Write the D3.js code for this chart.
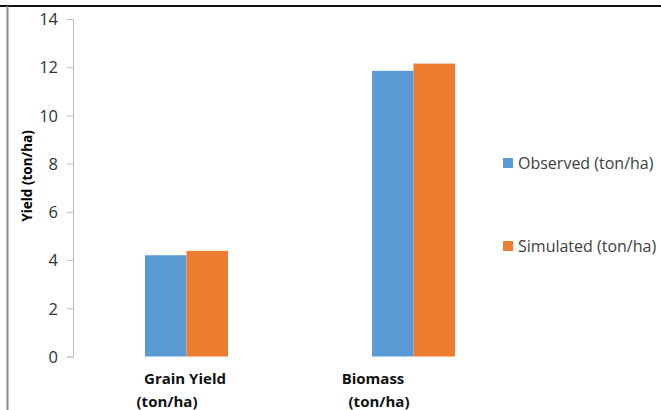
<!DOCTYPE html>
<html>
<head>
<meta charset="utf-8">
<script src="https://cdn.jsdelivr.net/npm/d3@7"></script>
<style>
  body { margin: 0; background: #fff; }
  svg { display: block; font-family: "Open Sans", "Liberation Sans", sans-serif; }
</style>
</head>
<body>
<div id="chart"></div>
<script>
const categories = ['Grain Yield', 'Biomass'];
const seriesNames = ['Observed (ton/ha)', 'Simulated (ton/ha)'];
const observed = [4.2, 11.85];
const simulated = [4.38, 12.15];
const yTicks = [0, 2, 4, 6, 8, 10, 12, 14];
const colors = ['#5b9bd5', '#ed7d31'];

const width = 661;
const height = 410;
const margin = {top: 19, left: 73, bottom: 53, right: 134};

const data = categories.map((c, i) => ({name: c, values: [observed[i], simulated[i]]}));

const x = d3.scaleBand()
    .domain(categories)
    .range([margin.left, width - margin.right]);

const xs = d3.scaleBand()
    .domain(seriesNames)
    .range([0, 83]);

const y = d3.scaleLinear()
    .domain([0, 14])
    .range([height - margin.bottom - 0.5, margin.top]);

const svg = d3.select('#chart').append('svg')
    .attr('width', width).attr('height', height);

// frame lines
svg.append('line').attr('x1', 0).attr('x2', width).attr('y1', 6).attr('y2', 6)
    .attr('stroke', '#111').attr('stroke-width', 2);
svg.append('line').attr('x1', 7.5).attr('x2', 7.5).attr('y1', 6).attr('y2', height)
    .attr('stroke', '#888').attr('stroke-width', 2);

const yAxis = g => g
    .attr('transform', `translate(${margin.left}, 0)`)
    .call(d3.axisLeft(y).tickValues(yTicks).tickSize(6).tickPadding(9))
    .call(g => g.attr('font-size', 16.5).attr('font-family', null))
    .call(g => g.selectAll('line, .domain').attr('stroke', '#bfbfbf'))
    .call(g => g.selectAll('text').attr('fill', '#333').attr('dy', '0.35em'));

svg.append('g').call(yAxis);

svg.append('g')
    .selectAll('g').data(data).enter().append('g')
    .attr('transform', d => `translate(${x(d.name) + x.bandwidth() / 2 - 41.5}, 0)`)
    .selectAll('rect').data(d => d.values).enter().append('rect')
    .attr('x', (d, i) => xs(seriesNames[i]))
    .attr('width', xs.bandwidth())
    .attr('y', d => y(d))
    .attr('height', d => y(0) - y(d))
    .attr('fill', (d, i) => colors[i]);

// category labels (two lines, Excel style)
const labelPos = [
  {line1: [185, 384], line2: [167, 407]},
  {line1: [373, 384], line2: [379, 407]}
];
categories.forEach((c, i) => {
  svg.append('text').attr('x', labelPos[i].line1[0]).attr('y', labelPos[i].line1[1])
      .attr('text-anchor', 'middle').attr('font-weight', 'bold').attr('font-size', 15)
      .attr('fill', '#111').text(c);
  svg.append('text').attr('x', labelPos[i].line2[0]).attr('y', labelPos[i].line2[1])
      .attr('text-anchor', 'middle').attr('font-weight', 'bold').attr('font-size', 15)
      .attr('fill', '#111').text('(ton/ha)');
});

// y title
svg.append('text')
    .attr('transform', 'translate(32, 176) rotate(-90)')
    .attr('text-anchor', 'middle').attr('font-weight', 'bold').attr('font-size', 13.5)
    .attr('fill', '#000').text('Yield (ton/ha)');

// legend
const legend = svg.append('g').selectAll('g').data(seriesNames).enter().append('g')
    .attr('transform', (d, i) => `translate(503, ${158 + i * 83})`);
legend.append('rect').attr('width', 10).attr('height', 10).attr('fill', (d, i) => colors[i]);
legend.append('text').attr('x', 15).attr('y', 10.5).attr('font-size', 16)
    .attr('fill', '#404040').text(d => d);
</script>
</body>
</html>
